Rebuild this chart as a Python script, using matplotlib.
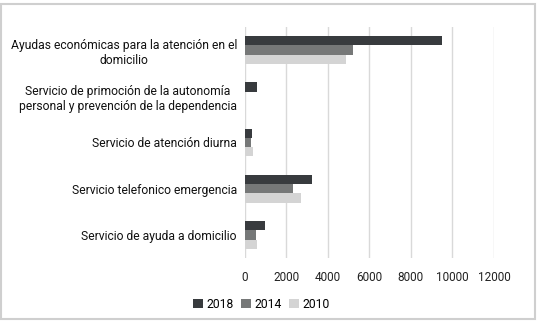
import matplotlib
matplotlib.use("Agg")
import matplotlib.pyplot as plt
import numpy as np
from matplotlib.patches import Rectangle

plt.rcParams['font.family'] = ['Roboto', 'DejaVu Sans']

categorias = [
    "Ayudas económicas para la atención en el\ndomicilio",
    "Servicio de primoción de la autonomía\npersonal y prevención de la dependencia",
    "Servicio de atención diurna",
    "Servicio telefonico emergencia",
    "Servicio de ayuda a domicilio",
]
anios = ["2018", "2014", "2010"]
v2018 = [9510, 580, 370, 3250, 990]
v2014 = [5230, 0, 300, 2310, 545]
v2010 = [4860, 0, 430, 2720, 580]
colores = ["#383b3e", "#767878", "#d4d4d4"]
xticks = [0, 2000, 4000, 6000, 8000, 10000, 12000]

fig = plt.figure(figsize=(5.41, 3.24), dpi=100)
ax = fig.add_axes([0.452, 0.2037, 0.461, 0.713])

y = np.arange(len(categorias))
alto = 0.2
for serie, desp, col, lab in zip([v2018, v2014, v2010], [-alto, 0, alto], colores, anios):
    ax.barh(y + desp, serie, height=alto, color=col, label=lab, zorder=3)

ax.set_ylim(4.5, -0.5)
ax.set_xlim(0, 12000)
ax.set_xticks(xticks)
ax.set_xticklabels([str(t) for t in xticks], fontsize=8.5, color="#222222")
ax.set_yticks(y)
ax.set_yticklabels(categorias, fontsize=8.7, color="#111111", multialignment="center")
ax.tick_params(axis="both", length=0)
ax.tick_params(axis="x", pad=9)
ax.tick_params(axis="y", pad=5.5)
ax.grid(axis="x", color="#d9d9d9", linewidth=1, zorder=0)
for s in ax.spines.values():
    s.set_visible(False)

ax.legend(loc="center", bbox_to_anchor=(0.483, 0.06),
          bbox_transform=fig.transFigure, ncol=3, frameon=False, fontsize=8.7,
          handlelength=0.8, handleheight=0.8, handletextpad=0.3, columnspacing=0.6)

# marco exterior
fig.patches.append(Rectangle((0.002, 0.015), 0.987, 0.972, transform=fig.transFigure,
                             fill=False, edgecolor="#cfcfcf", linewidth=1.5))

fig.savefig("out.png", dpi=100)
